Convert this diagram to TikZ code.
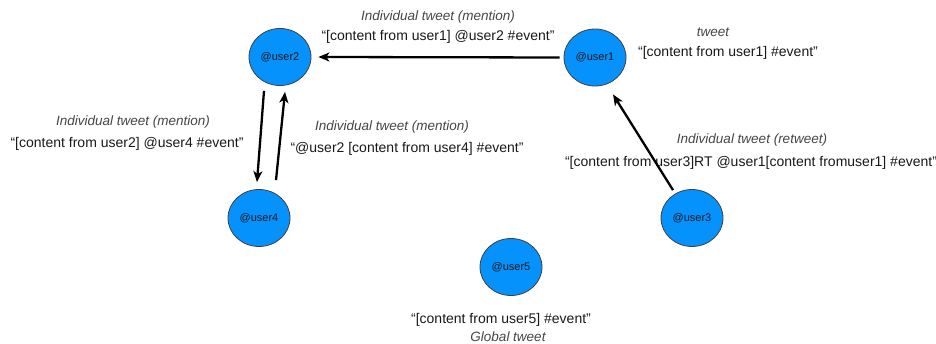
\documentclass[tikz,border=0pt]{standalone}
\usepackage{fontspec}
\setmainfont{Liberation Sans}
\usetikzlibrary{arrows.meta,calc,shapes.geometric}
\definecolor{nodeblue}{RGB}{6,146,252}
\definecolor{labelgray}{RGB}{70,70,70}
\definecolor{msgcol}{RGB}{25,25,25}
\begin{document}
\begin{tikzpicture}[x=1pt,y=-1pt,
  user/.style={ellipse, draw=black!75, line width=0.8pt, fill=nodeblue,
    minimum width=62pt, minimum height=57pt, inner sep=0pt,
    font=\fontsize{11}{13}\selectfont, text=black!90},
  msg/.style={font=\fontsize{14}{16}\selectfont, text=msgcol, inner sep=0pt},
  kind/.style={font=\fontsize{13.5}{16}\selectfont\itshape, text=labelgray, inner sep=0pt},
  link/.style={line width=2.3pt, -{Stealth[length=11pt,width=9pt,inset=3pt]}}]
\useasboundingbox (0,0) rectangle (936,344);
\fill[white] (0,0) rectangle (936,344);
% users
\node[user] (u2) at (280,57) {@user2};
\node[user] (u1) at (595,57.5) {@user1};
\node[user] (u4) at (259,218) {@user4};
\node[user] (u3) at (692,218) {@user3};
\node[user] (u5) at (511,267) {@user5};
% labels
\node[kind] (k1) at (438,17) {Individual tweet (mention)};
\node[msg]  (m1) at (438,37) {“[content from user1] @user2 \#event”};
\node[kind] (k2) at (713,32) {tweet};
\node[msg]  (m2) at (728,53) {“[content from user1] \#event”};
\node[kind] (k3) at (133,122) {Individual tweet (mention)};
\node[msg]  (m3) at (127,144) {“[content from user2] @user4 \#event”};
\node[kind] (k4) at (392,127) {Individual tweet (mention)};
\node[msg]  (m4) at (407,149) {“@user2 [content from user4] \#event”};
\node[kind] (k5) at (752,140) {Individual tweet (retweet)};
\node[msg]  (m5) at (751,163) {“[content from user3]RT @user1[content fromuser1] \#event”};
\node[msg]  (m6) at (501,320) {“[content from user5] \#event”};
\node[kind] (k6) at (508,337) {Global tweet};
% connectors
\draw[link] ($(u1.west)+(-4,0)$) -- ($(u2.east)+(7,0)$);
\draw[link] ($(u2.south)+(-16,5)$) -- ($(u4.north)+(-2,-7)$);
\draw[link] ($(u4.north)+(17,-9)$) -- ($(u2.south)+(5,6)$);
\draw[link] ($(u3.north)+(-19,1)$) -- ($(u1.south)+(18,8)$);
\end{tikzpicture}
\end{document}
